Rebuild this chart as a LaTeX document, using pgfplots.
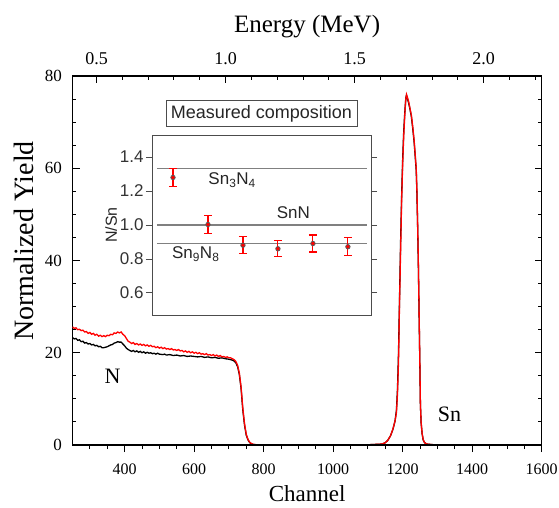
\documentclass[border=0pt]{standalone}
\usepackage{pgfplots}
\pgfplotsset{compat=1.18}
\usepackage{fontspec}
\setmainfont{Liberation Serif}
\newfontfamily\arialfont{Liberation Sans}

\pgfplotstableread{
ch y
250 25.6
255 25.3
260 25.4
265 25.0
270 25.1
275 24.8
280 24.9
285 24.5
290 24.6
295 24.2
300 24.4
305 24.0
310 24.2
315 23.8
320 24.0
325 23.6
330 23.8
335 23.5
340 23.7
345 23.5
350 23.8
355 23.7
360 24.0
365 23.9
370 24.3
375 24.2
380 24.5
385 24.3
390 24.5
395 24.0
400 23.7
405 23.1
410 22.5
415 22.3
420 22.0
425 22.2
430 21.8
435 22.0
440 21.7
445 21.9
450 21.6
455 21.8
460 21.5
465 21.7
470 21.4
475 21.6
480 21.3
485 21.4
490 21.1
495 21.3
500 21.0
505 21.2
510 20.9
515 21.1
520 20.8
525 20.9
530 20.7
535 20.9
540 20.6
545 20.7
550 20.5
555 20.7
560 20.4
565 20.5
570 20.2
575 20.4
580 20.1
585 20.3
590 20.0
595 20.2
600 19.9
605 20.1
610 19.8
615 20.0
620 19.7
625 19.8
630 19.6
635 19.8
640 19.5
645 19.6
650 19.4
655 19.6
660 19.3
665 19.5
670 19.2
675 19.4
680 19.1
685 19.2
690 19.0
695 19.1
700 18.9
705 18.9
710 18.7
715 18.5
720 18.1
725 17.3
730 15.6
735 12.6
740 8.0
745 4.6
750 2.3
755 1.2
760 0.6
765 0.3
770 0.15
780 0.05
790 0
900 0.05
1000 0
1100 0.05
1140 0.2
1150 0.5
1157 1.0
1165 2.0
1172 3.5
1178 5.2
1182 7.0
1185 11
1188 18
1191 31
1194 42
1197 53
1200 61
1203 67
1206 71.5
1209 75
1211 76
1214 75.3
1217 74.5
1221 73
1225 71.5
1229 69
1233 66
1236 63
1239 60
1241 55
1243 48
1245 40
1247 30
1249 20
1251 9
1253 5
1256 2.5
1259 1.2
1263 0.5
1270 0.2
1290 0.05
1400 0
1500 0.05
1590 0
}\redspec

\pgfplotstableread{
ch y
250 23.3
255 23.0
260 23.1
265 22.7
270 22.8
275 22.4
280 22.5
285 22.1
290 22.2
295 21.9
300 22.0
305 21.7
310 21.8
315 21.5
320 21.6
325 21.3
330 21.4
335 21.1
340 21.1
345 21.2
350 21.3
355 21.5
360 21.7
365 21.8
370 22.1
375 22.2
380 22.4
385 22.3
390 22.3
395 21.9
400 21.5
405 21.0
410 20.7
415 20.5
420 20.3
425 20.5
430 20.2
435 20.4
440 20.1
445 20.3
450 20.0
455 20.2
460 19.9
465 20.1
470 19.9
475 20.0
480 19.8
485 19.9
490 19.7
495 19.9
500 19.7
510 19.6
515 19.7
520 19.5
530 19.6
540 19.4
550 19.5
560 19.3
570 19.4
580 19.2
590 19.3
600 19.2
610 19.1
620 19.2
630 19.0
640 19.1
650 18.9
660 19.0
670 18.8
680 18.9
690 18.7
700 18.6
710 18.4
715 18.2
720 17.8
725 17.0
730 15.3
735 12.3
740 7.6
745 4.3
750 2.1
755 1.1
760 0.5
765 0.25
770 0.1
780 0.05
790 0
900 0.05
1000 0
1100 0.05
1140 0.2
1150 0.5
1157 1.0
1165 2.0
1172 3.4
1178 5.2
1182 7.5
1185 12
1188 20
1191 32
1194 44
1197 54
1200 62
1203 68
1206 72
1209 75.2
1211 75.8
1214 75.0
1217 74.2
1221 72.8
1225 71.2
1229 68.6
1233 65.6
1236 62.6
1239 59.5
1241 54.5
1243 47.5
1245 39.5
1247 29.5
1249 19.5
1251 8.8
1253 4.8
1256 2.4
1259 1.1
1263 0.5
1270 0.2
1290 0.05
1400 0
1500 0.05
1590 0
}\blackspec

\begin{document}
\begin{tikzpicture}
\useasboundingbox (-72.5pt,-62pt) rectangle (486.5pt,445pt);
% main axis
\begin{axis}[
  at={(0,0)}, anchor=south west,
  scale only axis, width=469.2pt, height=369pt,
  xmin=250, xmax=1600, ymin=0, ymax=80,
  xtick={400,600,...,1600},
  ytick={0,20,40,60,80},
  minor ytick={5,10,...,75},
  tick align=inside,
  xtick pos=bottom,
  x tick style={draw=none},
  major tick length=7pt, minor tick length=4pt,
  tick style={line width=0.9pt, black},
  axis line style={line width=1.1pt},
  /pgf/number format/assume math mode=true,
  /pgf/number format/1000 sep={},
  xticklabel style={font=\fontsize{16}{18}\selectfont, anchor=center, yshift=-24pt},
  yticklabel style={font=\fontsize{17}{19}\selectfont, anchor=east, xshift=-7pt},
  xlabel={Channel},
  ylabel={Normalized Yield},
  xlabel style={font=\fontsize{23}{26}\selectfont, inner sep=0pt, at={(axis description cs:0.5,0)}, anchor=center, yshift=-49pt},
  ylabel style={font=\fontsize{28}{32}\selectfont, inner sep=0pt, at={(axis description cs:-0.1034,0.553)}, anchor=center},
]
\addplot[black, line width=1.3pt] table[x=ch, y=y] {\blackspec};
\addplot[red, line width=1.3pt] table[x=ch, y=y] {\redspec};
\node[font=\fontsize{22}{26}\selectfont] at (axis cs:365,15) {N};
\node[font=\fontsize{22}{26}\selectfont] at (axis cs:1335,6.7) {Sn};
\end{axis}
% bottom outside ticks
\begin{axis}[
  at={(0,0)}, anchor=south west,
  scale only axis, width=469.2pt, height=369pt,
  xmin=250, xmax=1600, ymin=0, ymax=80,
  axis x line*=bottom, hide y axis,
  tick align=outside,
  xtick={400,600,...,1600}, xticklabels={},
  minor xtick={300,350,...,1550},
  major tick length=7pt, minor tick length=4pt,
  tick style={line width=0.9pt, black},
  axis line style={line width=1.1pt, -},
]
\end{axis}
% top energy axis
\begin{axis}[
  at={(0,0)}, anchor=south west,
  scale only axis, width=469.2pt, height=369pt,
  xmin=0.407, xmax=2.225, ymin=0, ymax=1,
  axis x line*=top, hide y axis,
  tick align=inside,
  xtick={0.5,1.0,1.5,2.0}, xticklabels={0.5,1.0,1.5,2.0},
  minor xtick={0.6,0.7,0.8,0.9,1.1,1.2,1.3,1.4,1.6,1.7,1.8,1.9,2.1,2.2},
  major tick length=7pt, minor tick length=4pt,
  tick style={line width=0.9pt, black},
  axis line style={line width=1.1pt, -},
  xticklabel style={font=\fontsize{18}{20}\selectfont, anchor=center, yshift=17pt},
  xlabel={Energy (MeV)},
  xlabel style={font=\fontsize{25}{28}\selectfont, at={(axis description cs:0.5,1)}, anchor=center, yshift=49pt},
]
\end{axis}
% inset
\begin{axis}[
  at={(79.5pt,130pt)}, anchor=south west,
  scale only axis, width=219pt, height=180pt,
  xmin=0.4, xmax=6.66, ymin=0.47, ymax=1.53,
  xtick=\empty,
  ytick={0.6,0.8,1.0,1.2,1.4},
  yticklabels={0.6,0.8,1.0,1.2,1.4},
  tick align=outside, ytick pos=both, yticklabel pos=left,
  major tick length=6pt,
  tick style={line width=0.9pt, gray!60!black},
  axis line style={line width=1pt, gray!60!black},
  axis background/.style={fill=white},
  yticklabel style={font=\arialfont\fontsize{17}{19}\selectfont, text=black!80, xshift=1pt},
  ylabel={N/Sn},
  ylabel style={font=\arialfont\fontsize{16}{18}\selectfont, text=black!85, yshift=-4pt},
  title={Measured composition},
  title style={draw=gray!60!black, line width=0.9pt, fill=white, at={(0.5,1)}, anchor=south, yshift=2pt, inner xsep=5pt, inner ysep=5pt, text height=13pt, text depth=3.5pt, font=\arialfont\fontsize{18}{20}\selectfont, text=black!85},
]
\addplot[gray, line width=1.2pt] coordinates {(0.54,1.3333) (6.54,1.3333)};
\addplot[gray, line width=1.2pt] coordinates {(0.54,1.0) (6.54,1.0)};
\addplot[gray, line width=1.2pt] coordinates {(0.54,0.8889) (6.54,0.8889)};
\addplot[red, only marks, mark=none,
  error bars/.cd, y dir=both, y explicit,
  error bar style={draw=red, line width=1.1pt},
  error mark options={rotate=90, draw=red, mark size=4pt, line width=1.1pt}]
  coordinates {
  (1,1.28) +- (0,0.053)
  (2,1.003) +- (0,0.051)
  (3,0.881) +- (0,0.051)
  (4,0.860) +- (0,0.048)
  (5,0.891) +- (0,0.050)
  (6,0.872) +- (0,0.052)
  };
\addplot[only marks, mark=o, mark size=2.2pt, mark options={draw=gray!70!black, line width=0.8pt}]
  coordinates {
  (1,1.28)
  (2,1.003)
  (3,0.881)
  (4,0.860)
  (5,0.891)
  (6,0.872)
  };
\node[font=\arialfont\fontsize{17}{19}\selectfont, text=black!85] at (axis cs:2.69,1.264) {Sn\textsubscript{3}N\textsubscript{4}};
\node[font=\arialfont\fontsize{17}{19}\selectfont, text=black!85] at (axis cs:4.44,1.07) {SnN};
\node[font=\arialfont\fontsize{17}{19}\selectfont, text=black!85] at (axis cs:1.65,0.83) {Sn\textsubscript{9}N\textsubscript{8}};
\end{axis}
\end{tikzpicture}
\end{document}
